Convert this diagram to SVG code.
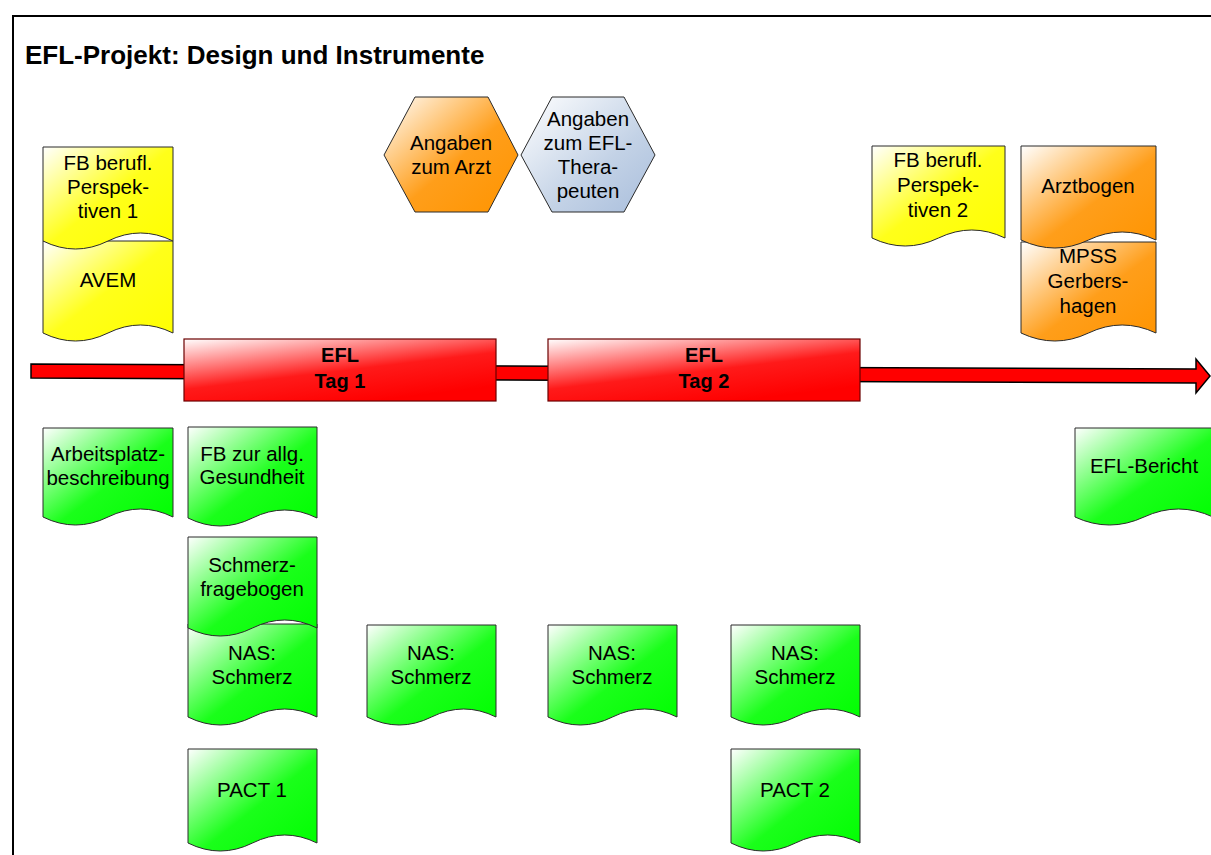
<svg xmlns="http://www.w3.org/2000/svg" width="1211" height="855" viewBox="0 0 1211 855">
<defs>
<linearGradient id="gY" x1="0" y1="0" x2="1" y2="1"><stop offset="0" stop-color="#ffffff"/><stop offset="0.5" stop-color="#ffff1a"/><stop offset="1" stop-color="#ffff00"/></linearGradient>
<linearGradient id="gO" x1="0" y1="0" x2="1" y2="1"><stop offset="0" stop-color="#ffffff"/><stop offset="0.55" stop-color="#ff9e1a"/><stop offset="1" stop-color="#ff9400"/></linearGradient>
<linearGradient id="gG" x1="0" y1="0" x2="1" y2="1"><stop offset="0" stop-color="#ffffff"/><stop offset="0.55" stop-color="#1aff1a"/><stop offset="1" stop-color="#00ff00"/></linearGradient>
<linearGradient id="gB" x1="0" y1="0" x2="1" y2="1"><stop offset="0" stop-color="#ffffff"/><stop offset="0.6" stop-color="#c3d2e6"/><stop offset="1" stop-color="#a9bedc"/></linearGradient>
<linearGradient id="gR" x1="0" y1="0" x2="0.6" y2="1"><stop offset="0" stop-color="#ffffff"/><stop offset="0.6" stop-color="#ff1a1a"/><stop offset="1" stop-color="#ff0000"/></linearGradient>
</defs>
<style>
.doc{stroke:#2a2a2a;stroke-width:1}
.y{fill:url(#gY)} .o{fill:url(#gO)} .g{fill:url(#gG)} .b{fill:url(#gB)}
.t{font-family:"Liberation Sans",Arial,sans-serif;font-size:20.5px;fill:#000;text-anchor:middle}
.tb{font-family:"Liberation Sans",Arial,sans-serif;font-size:20px;font-weight:bold;fill:#000;text-anchor:middle}
.day{fill:url(#gR);stroke:#6b0000;stroke-width:1.2}
</style>
<rect width="1211" height="855" fill="#fff"/>
<path d="M13,855 V16 H1211" fill="none" stroke="#000" stroke-width="2"/>
<text x="25" y="64" font-family="Liberation Sans, Arial, sans-serif" font-size="26" font-weight="bold">EFL-Projekt: Design und Instrumente</text>

<g id="connectors">
<polygon points="31,364 1196,369 1196,359 1210,376 1196,393 1196,383 31,378" fill="#ff0000" stroke="#000" stroke-width="1.5"/>
</g>

<g id="efl-tag1"><rect class="day" x="184" y="339" width="312" height="62"/><text class="tb" x="340" y="362">EFL</text><text class="tb" x="340" y="388">Tag 1</text></g>
<g id="efl-tag2"><rect class="day" x="548" y="339" width="312" height="62"/><text class="tb" x="704" y="362">EFL</text><text class="tb" x="704" y="388">Tag 2</text></g>

<g id="avem"><path class="doc y" d="M43,241 H173 V333 Q140.5,317 108,333 T43,333 Z"/><text class="t" x="108" y="287">AVEM</text></g>
<g id="fb-perspektiven-1"><path class="doc y" d="M43,147 H173 V241 Q140.5,225 108,241 T43,241 Z"/><text class="t" x="108" y="170">FB berufl.</text><text class="t" x="108" y="194">Perspek-</text><text class="t" x="108" y="218">tiven 1</text></g>

<g id="angaben-arzt"><polygon points="384,155 415,97 488,97 518,155 488,212 415,212" fill="url(#gO)" stroke="#2a2a2a"/><text class="t" x="451" y="150">Angaben</text><text class="t" x="451" y="174">zum Arzt</text></g>
<g id="angaben-therapeut"><polygon points="521,155 552,97 624,97 655,155 624,212 552,212" fill="url(#gB)" stroke="#2a2a2a"/><text class="t" x="588" y="126">Angaben</text><text class="t" x="588" y="150">zum EFL-</text><text class="t" x="588" y="174">Thera-</text><text class="t" x="588" y="198">peuten</text></g>

<g id="fb-perspektiven-2"><path class="doc y" d="M872,146 H1005 V238 Q971.75,222 938.5,238 T872,238 Z"/><text class="t" x="938" y="167">FB berufl.</text><text class="t" x="938" y="192">Perspek-</text><text class="t" x="938" y="217">tiven 2</text></g>
<g id="mpss"><path class="doc o" d="M1021,242 H1156 V333 Q1122,317 1088.5,333 T1021,333 Z"/><text class="t" x="1088" y="263">MPSS</text><text class="t" x="1088" y="288">Gerbers-</text><text class="t" x="1088" y="313">hagen</text></g>
<g id="arztbogen"><path class="doc o" d="M1021,146 H1156 V240 Q1122,224 1088.5,240 T1021,240 Z"/><text class="t" x="1088" y="193">Arztbogen</text></g>

<g id="arbeitsplatz"><path class="doc g" d="M43,428 H173 V517 Q140.5,501 108,517 T43,517 Z"/><text class="t" x="108" y="461">Arbeitsplatz-</text><text class="t" x="108" y="485">beschreibung</text></g>
<g id="fb-gesundheit"><path class="doc g" d="M188,427 H317 V518 Q284.75,502 252.5,518 T188,518 Z"/><text class="t" x="252" y="461">FB zur allg.</text><text class="t" x="252" y="484">Gesundheit</text></g>
<g id="nas-1"><path class="doc g" d="M188,624 H317 V717 Q284.75,701 252.5,717 T188,717 Z"/><text class="t" x="252" y="660">NAS:</text><text class="t" x="252" y="684">Schmerz</text></g>
<g id="schmerzfragebogen"><path class="doc g" d="M188,537 H317 V628 Q284.75,612 252.5,628 T188,628 Z"/><text class="t" x="252" y="572">Schmerz-</text><text class="t" x="252" y="596">fragebogen</text></g>
<g id="nas-2"><path class="doc g" d="M367,625 H496 V717 Q463.75,701 431.5,717 T367,717 Z"/><text class="t" x="431" y="660">NAS:</text><text class="t" x="431" y="684">Schmerz</text></g>
<g id="nas-3"><path class="doc g" d="M548,625 H677 V717 Q644.75,701 612.5,717 T548,717 Z"/><text class="t" x="612" y="660">NAS:</text><text class="t" x="612" y="684">Schmerz</text></g>
<g id="nas-4"><path class="doc g" d="M731,625 H860 V717 Q827.75,701 795.5,717 T731,717 Z"/><text class="t" x="795" y="660">NAS:</text><text class="t" x="795" y="684">Schmerz</text></g>
<g id="pact-1"><path class="doc g" d="M188,749 H317 V843 Q284.75,827 252.5,843 T188,843 Z"/><text class="t" x="252" y="797">PACT 1</text></g>
<g id="pact-2"><path class="doc g" d="M731,749 H860 V843 Q827.75,827 795.5,843 T731,843 Z"/><text class="t" x="795" y="797">PACT 2</text></g>
<g id="efl-bericht"><path class="doc g" d="M1075,428 H1213 V517 Q1178.5,501 1144,517 T1075,517 Z"/><text class="t" x="1144" y="473">EFL-Bericht</text></g>
</svg>
